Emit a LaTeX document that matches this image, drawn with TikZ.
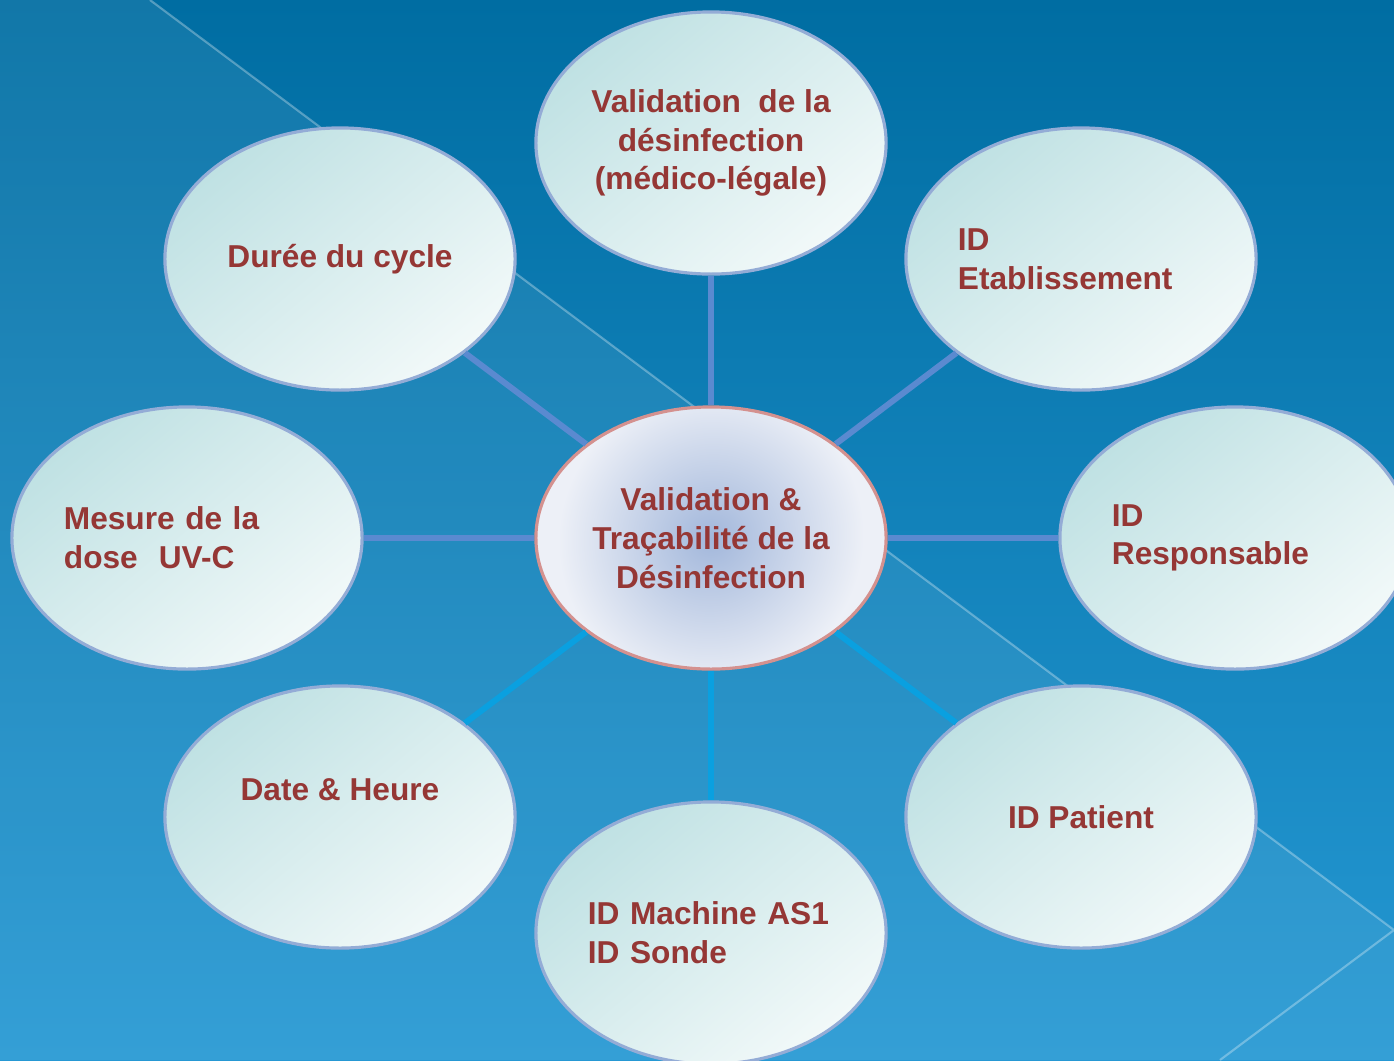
\documentclass[tikz,border=0pt]{standalone}
\usepackage{fontspec}
\setmainfont{Liberation Sans}
\usetikzlibrary{shapes.geometric}

\definecolor{fondhaut}{HTML}{006DA2}
\definecolor{fondbas}{HTML}{2598D3}
\definecolor{texte}{HTML}{953735}
\definecolor{bord}{HTML}{94ACD6}
\definecolor{bordcentre}{HTML}{D4918F}
\definecolor{bulleclair}{HTML}{F2F9F9}
\definecolor{bullefonce}{HTML}{BFE1E3}
\definecolor{coeur}{HTML}{A2B7DB}
\definecolor{coeurclair}{HTML}{EDF0F7}
\definecolor{rayonhaut}{HTML}{5A8AD0}
\definecolor{rayonbas}{HTML}{0AA0E0}

\tikzset{
  mot/.style={text=texte, font=\bfseries\fontsize{9}{11}\selectfont, align=center},
  bulle/.style={ellipse, draw=bord, line width=0.9pt, minimum width=3.5cm, minimum height=2.62cm, inner sep=0pt,
    top color=bullefonce, bottom color=bulleclair, shading angle=40, mot},
  centre/.style={bulle, draw=bordcentre, inner color=coeur, outer color=coeurclair},
  gauche/.style={text width=2.46cm, align=left},
  rayon/.style={line width=1.7pt, draw=rayonhaut},
  rayonb/.style={rayon, draw=rayonbas}
}

\begin{document}
\begin{tikzpicture}[x=0.01cm, y=-0.01cm]
  \useasboundingbox (0,0) rectangle (1394,1060);
  \clip (0,0) rectangle (1394,1060);
  % fond
  \shade[top color=fondhaut, bottom color=fondbas] (0,0) rectangle (1394,1060);
  \fill[white, opacity=0.07] (0,0) -- (150,0) -- (1394,930) -- (1394,1060) -- (0,1060) -- cycle;
  \draw[white, opacity=0.3, line width=0.6pt] (150,0) -- (1394,930) -- (1220,1060);

  % bulles
  \node[centre] (hub) at (711,538) {Validation \&\\Traçabilité de la\\Désinfection};
  \node[bulle] (valid) at (711,143) {Validation\ \ de la\\désinfection\\(médico-légale)};
  \node[bulle] (duree) at (340,259) {Durée du cycle};
  \node[bulle, gauche] (etab) at (1081,259) {ID\\Etablissement};
  \node[bulle, gauche] (mesure) at (187,538) {Mesure de la\\dose\ \ UV-C};
  \node[bulle, gauche] (resp) at (1235,538) {ID\\Responsable};
  \node[bulle, label={[mot, yshift=0.27cm]center:Date \& Heure}] (date) at (340,817) {};
  \node[bulle] (patient) at (1081,817) {ID Patient};
  \node[bulle, gauche] (machine) at (711,933) {ID Machine AS1\\ID Sonde};

  % rayons
  \draw[rayon] (hub) -- (valid);
  \draw[rayon] (hub) -- (duree);
  \draw[rayon] (hub) -- (etab);
  \draw[rayon] (hub) -- (mesure);
  \draw[rayon] (hub) -- (resp);
  \draw[rayonb] (hub) -- (date);
  \draw[rayonb] (hub) -- (machine);
  \draw[rayonb] (hub) -- (patient);
\end{tikzpicture}
\end{document}
